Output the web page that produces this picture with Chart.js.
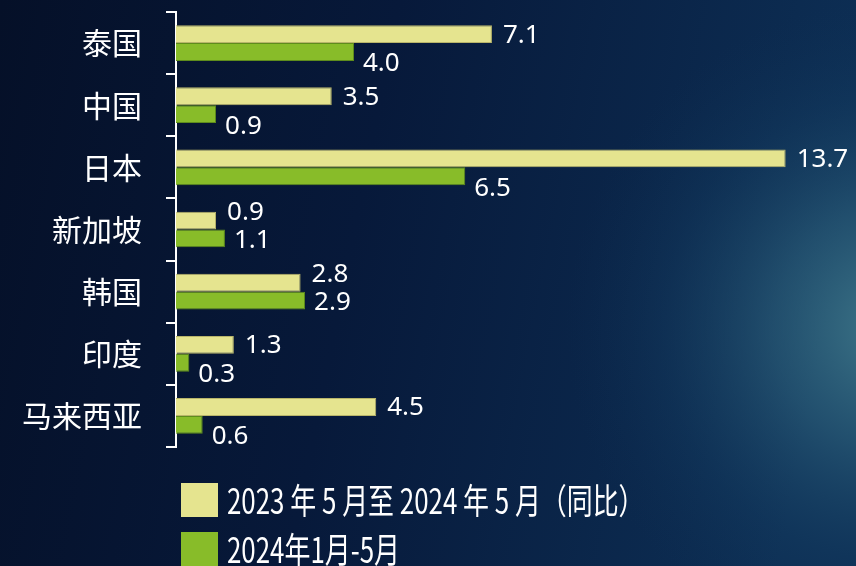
<!DOCTYPE html>
<html>
<head>
<meta charset="utf-8">
<script src="https://cdn.jsdelivr.net/npm/chart.js@4"></script>
<style>
html,body{margin:0;padding:0;background:#061430;}
#wrap{width:856px;height:566px;position:relative;}
</style>
</head>
<body>
<div id="wrap"><canvas id="c" width="856" height="566"></canvas></div>
<script>
const categories = ['泰国','中国','日本','新加坡','韩国','印度','马来西亚'];
const seriesNames = ['2023 年 5 月至 2024 年 5 月（同比）','2024年1月-5月'];
const yoyValues = [7.1, 3.5, 13.7, 0.9, 2.8, 1.3, 4.5];
const ytdValues = [4.0, 0.9, 6.5, 1.1, 2.9, 0.3, 0.6];
const xMax = 14;

const YELLOW = '#e5e48f', YELLOW_B = '#b9b56a';
const GREEN = '#88bc29', GREEN_B = '#5e8c1c';

const bgPlugin = {
  id: 'bg',
  beforeDraw(chart) {
    const ctx = chart.ctx, w = chart.width, h = chart.height;
    ctx.save();
    let g = ctx.createLinearGradient(0, 0, w, h * 0.3);
    g.addColorStop(0, '#051028');
    g.addColorStop(0.45, '#07193a');
    g.addColorStop(1, '#0d2f55');
    ctx.fillStyle = g;
    ctx.fillRect(0, 0, w, h);
    let r = ctx.createRadialGradient(w + 40, h * 0.58, 10, w + 40, h * 0.58, 330);
    r.addColorStop(0, 'rgba(70,130,145,0.85)');
    r.addColorStop(0.35, 'rgba(50,105,130,0.55)');
    r.addColorStop(0.7, 'rgba(25,70,105,0.25)');
    r.addColorStop(1, 'rgba(15,50,85,0)');
    ctx.fillStyle = r;
    ctx.fillRect(0, 0, w, h);
    ctx.restore();
  }
};

const labelPlugin = {
  id: 'vals',
  afterDatasetsDraw(chart) {
    const ctx = chart.ctx;
    ctx.save();
    ctx.fillStyle = '#ffffff';
    ctx.font = '26px "Noto Sans", "DejaVu Sans", sans-serif';
    ctx.textAlign = 'left';
    ctx.textBaseline = 'middle';
    const m0 = chart.getDatasetMeta(0), m1 = chart.getDatasetMeta(1);
    categories.forEach((c, i) => {
      const a = chart.data.datasets[0].data[i], b = chart.data.datasets[1].data[i];
      const close = Math.abs(a - b) < 0.5;
      const e0 = m0.data[i], e1 = m1.data[i];
      ctx.fillText(a.toFixed(1), e0.x + 11, e0.y + (close ? -8 : 1));
      ctx.fillText(b.toFixed(1), e1.x + 9, e1.y + (close ? 2 : 12));
    });
    ctx.restore();
  }
};

const legendPlugin = {
  id: 'customLegend',
  afterDraw(chart) {
    const ctx = chart.ctx;
    const ca = chart.chartArea;
    ctx.save();
    chart.data.datasets.forEach((ds, i) => {
      const top = ca.bottom + 36 + i * 49;
      ctx.fillStyle = ds.backgroundColor;
      ctx.fillRect(181, top, 37, 34);
      ctx.save();
      ctx.translate(227, top + 17);
      ctx.scale(0.74, 1);
      ctx.fillStyle = '#ffffff';
      ctx.font = '35px "Noto Sans CJK SC", sans-serif';
      ctx.textBaseline = 'middle';
      ctx.fillText(ds.label, 0, 1);
      ctx.restore();
    });
    ctx.restore();
  }
};

new Chart(document.getElementById('c'), {
  type: 'bar',
  data: {
    labels: categories,
    datasets: [
      { label: seriesNames[0], data: yoyValues, backgroundColor: YELLOW, borderColor: YELLOW_B, borderWidth: 1 },
      { label: seriesNames[1], data: ytdValues, backgroundColor: GREEN, borderColor: GREEN_B, borderWidth: 1 }
    ]
  },
  options: {
    indexAxis: 'y',
    responsive: false,
    animation: false,
    layout: { padding: { top: 12, bottom: 119, left: 0, right: 57 } },
    datasets: { bar: { categoryPercentage: 0.575, barPercentage: 1.0 } },
    plugins: { legend: { display: false }, tooltip: { enabled: false } },
    scales: {
      x: { display: false, min: 0, max: xMax },
      y: {
        afterFit(s) { s.width = 176; s.paddingTop = 0; s.paddingBottom = 0; },
        border: { display: true, color: '#ffffff', width: 2 },
        grid: { display: true, drawOnChartArea: false, drawTicks: true, tickLength: 10, color: '#ffffff', lineWidth: 2, offset: true },
        ticks: { color: '#ffffff', padding: 24, font: { family: '"Noto Sans CJK SC", sans-serif', size: 30 } }
      }
    }
  },
  plugins: [bgPlugin, labelPlugin, legendPlugin]
});
</script>
</body>
</html>
